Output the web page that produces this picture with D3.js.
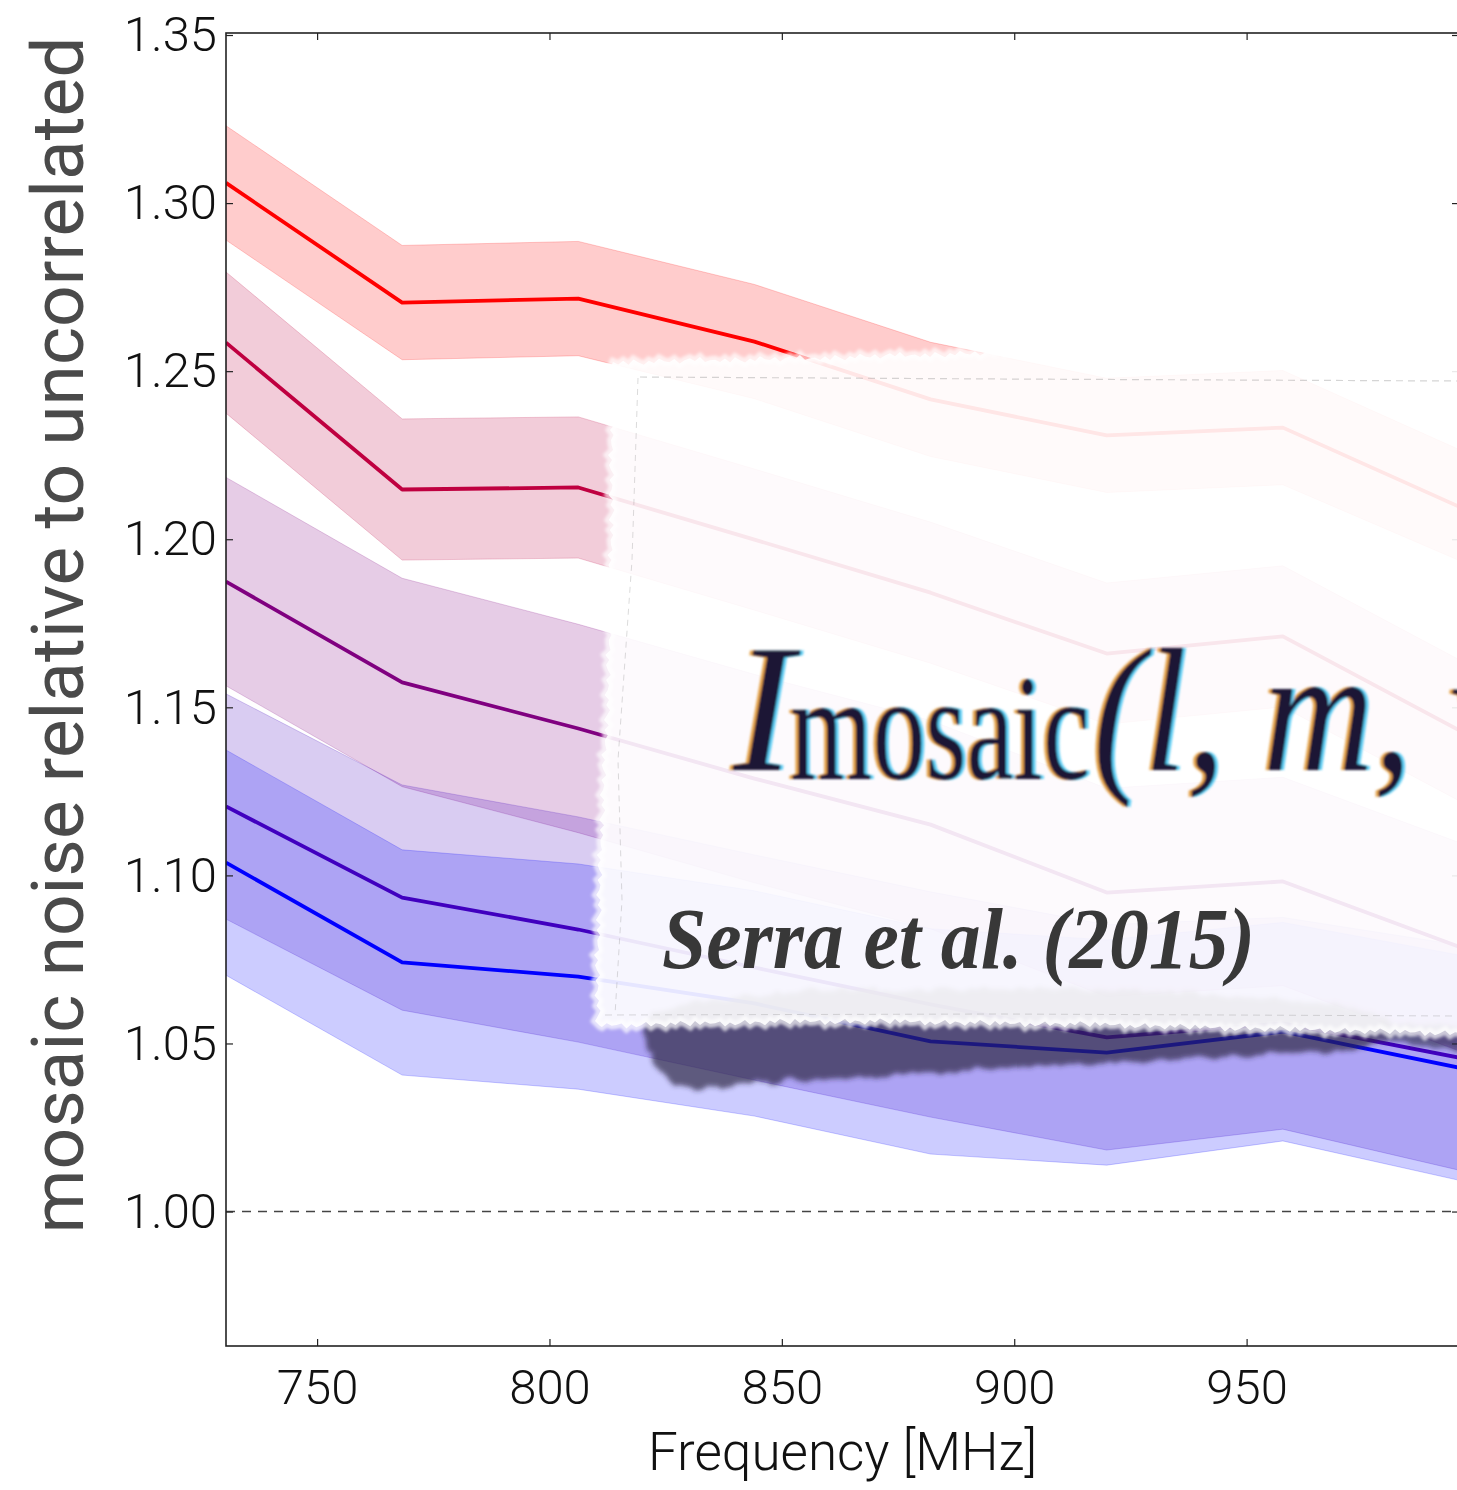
<!DOCTYPE html>
<html><head><meta charset="utf-8">
<script src="https://cdn.jsdelivr.net/npm/d3@7"></script>
<style>body{margin:0;background:#fff;} svg{display:block;}</style>
</head><body>
<svg id="chart" width="1457" height="1490"></svg>
<script>
// ---------------- data ----------------
const freq = [730.4, 768.3, 806.2, 844.1, 882.0, 919.9, 957.8, 995.7];

const seriesColors = ["#ff0000", "#bf0040", "#800080", "#4000bf", "#0000ff"];

const meanRed     = [1.3060, 1.2704, 1.2716, 1.2588, 1.2416, 1.2309, 1.2332, 1.2097];
const loRed       = [1.2890, 1.2534, 1.2546, 1.2418, 1.2246, 1.2139, 1.2162, 1.1937];
const hiRed       = [1.3230, 1.2874, 1.2886, 1.2758, 1.2586, 1.2479, 1.2502, 1.2267];

const meanCrimson = [1.2585, 1.2148, 1.2154, 1.1999, 1.1841, 1.1660, 1.1711, 1.1432];
const loCrimson   = [1.2375, 1.1938, 1.1944, 1.1789, 1.1631, 1.1450, 1.1501, 1.1222];
const hiCrimson   = [1.2795, 1.2358, 1.2364, 1.2209, 1.2051, 1.1870, 1.1921, 1.1642];

const meanPurple  = [1.1874, 1.1574, 1.1437, 1.1288, 1.1151, 1.0949, 1.0982, 1.0788];
const loPurple    = [1.1564, 1.1264, 1.1127, 1.0978, 1.0841, 1.0639, 1.0672, 1.0478];
const hiPurple    = [1.2184, 1.1884, 1.1747, 1.1598, 1.1461, 1.1259, 1.1292, 1.1098];

const meanIndigo  = [1.1205, 1.0934, 1.0839, 1.0726, 1.0616, 1.0518, 1.0560, 1.0458];
const loIndigo    = [1.0870, 1.0599, 1.0504, 1.0391, 1.0281, 1.0183, 1.0245, 1.0123];
const hiIndigo    = [1.1540, 1.1269, 1.1174, 1.1061, 1.0951, 1.0853, 1.0875, 1.0793];

const meanBlue    = [1.1038, 1.0741, 1.0699, 1.0619, 1.0506, 1.0473, 1.0535, 1.0428];
const loBlue      = [1.0703, 1.0406, 1.0364, 1.0284, 1.0171, 1.0138, 1.0210, 1.0093];
const hiBlue      = [1.1373, 1.1076, 1.1034, 1.0954, 1.0841, 1.0808, 1.0860, 1.0763];

const xTicks = [750, 800, 850, 900, 950];
const yTicks = [1.00, 1.05, 1.10, 1.15, 1.20, 1.25, 1.30, 1.35];
const yTickLabels = ["1.00", "1.05", "1.10", "1.15", "1.20", "1.25", "1.30", "1.35"];
const referenceLevel = 1.0;
const xLabel = "Frequency [MHz]";
const yLabel = "mosaic noise relative to uncorrelated";
const citation = "Serra et al. (2015)";
const formulaParts = ["I", "mosaic", "(l, m, ν"];

// ---------------- build ----------------
const series = [
  [meanRed, loRed, hiRed],
  [meanCrimson, loCrimson, hiCrimson],
  [meanPurple, loPurple, hiPurple],
  [meanIndigo, loIndigo, hiIndigo],
  [meanBlue, loBlue, hiBlue]
].map((s, i) => ({
  color: seriesColors[i],
  pts: freq.map((f, j) => ({f, m: s[0][j], lo: s[1][j], hi: s[2][j]}))
}));

const svg = d3.select("#chart");
const L = 226, R = 1459, T = 33, B = 1346;
const x = d3.scaleLinear().domain([730.4, 995.7]).range([L, R]);
const y = d3.scaleLinear().domain([0.96, 1.3506]).range([B, T]);

const defs = svg.append("defs");
defs.append("clipPath").attr("id", "plotclip")
  .append("rect").attr("x", L).attr("y", T).attr("width", R - L).attr("height", B - T);

const shadowF = defs.append("filter").attr("id", "shadowF").attr("x", "-10%").attr("y", "-40%").attr("width", "120%").attr("height", "180%");
shadowF.append("feTurbulence").attr("type", "fractalNoise").attr("baseFrequency", "0.06").attr("numOctaves", 3).attr("seed", 9).attr("result", "noise");
shadowF.append("feDisplacementMap").attr("in", "SourceGraphic").attr("in2", "noise").attr("scale", 12).attr("xChannelSelector", "R").attr("yChannelSelector", "G").attr("result", "d");
shadowF.append("feGaussianBlur").attr("in", "d").attr("stdDeviation", 2.5);

const edgeF = defs.append("filter").attr("id", "edgeF");
edgeF.append("feGaussianBlur").attr("stdDeviation", 1.6);

// chromatic fringe for the pasted formula
const fr = defs.append("filter").attr("id", "fringe").attr("x", "-5%").attr("y", "-20%").attr("width", "110%").attr("height", "140%");
fr.append("feOffset").attr("in", "SourceAlpha").attr("dx", -3).attr("result", "aL");
fr.append("feFlood").attr("flood-color", "#e0952f").attr("flood-opacity", 0.85).attr("result", "cL");
fr.append("feComposite").attr("in", "cL").attr("in2", "aL").attr("operator", "in").attr("result", "oL");
fr.append("feOffset").attr("in", "SourceAlpha").attr("dx", 3).attr("result", "aR");
fr.append("feFlood").attr("flood-color", "#45c6f2").attr("flood-opacity", 0.85).attr("result", "cR");
fr.append("feComposite").attr("in", "cR").attr("in2", "aR").attr("operator", "in").attr("result", "oR");
const mg = fr.append("feMerge").attr("result", "m");
mg.append("feMergeNode").attr("in", "oL");
mg.append("feMergeNode").attr("in", "oR");
mg.append("feMergeNode").attr("in", "SourceGraphic");
fr.append("feGaussianBlur").attr("in", "m").attr("stdDeviation", 1.0);

const soft = defs.append("filter").attr("id", "soft");
soft.append("feGaussianBlur").attr("stdDeviation", 0.6);

const plot = svg.append("g").attr("clip-path", "url(#plotclip)");

const area = d3.area().x(d => x(d.f)).y0(d => y(d.lo)).y1(d => y(d.hi));
const line = d3.line().x(d => x(d.f)).y(d => y(d.m));

series.forEach(s => {
  plot.append("path").datum(s.pts).attr("d", area)
    .attr("fill", s.color).attr("fill-opacity", 0.2)
    .attr("stroke", s.color).attr("stroke-opacity", 0.2).attr("stroke-width", 1);
});
series.forEach(s => {
  plot.append("path").datum(s.pts).attr("d", line)
    .attr("fill", "none").attr("stroke", s.color).attr("stroke-width", 3.8)
    .attr("stroke-linejoin", "round");
});

// reference dashed line
plot.append("line")
  .attr("x1", L).attr("x2", R).attr("y1", y(referenceLevel)).attr("y2", y(referenceLevel))
  .attr("stroke", "#444").attr("stroke-width", 1.5).attr("stroke-dasharray", "9,7");

// axes
const tickFont = "Roboto, 'Liberation Sans', sans-serif";
const gL = svg.append("g").attr("transform", `translate(${L},0)`)
  .call(d3.axisLeft(y).tickValues(yTicks).tickFormat((d, i) => yTickLabels[i]).tickSizeInner(-7).tickSizeOuter(0).tickPadding(9));
const gR = svg.append("g").attr("transform", `translate(${R},0)`)
  .call(d3.axisRight(y).tickValues(yTicks).tickFormat("").tickSizeInner(-7).tickSizeOuter(0));
const gB = svg.append("g").attr("transform", `translate(0,${B})`)
  .call(d3.axisBottom(x).tickValues(xTicks).tickFormat(d3.format("d")).tickSizeInner(-7).tickSizeOuter(0).tickPadding(23));
const gT = svg.append("g").attr("transform", `translate(0,${T})`)
  .call(d3.axisTop(x).tickValues(xTicks).tickFormat("").tickSizeInner(-7).tickSizeOuter(0));

[gL, gR, gB, gT].forEach(g => {
  g.select(".domain").remove();
  g.selectAll(".tick line").attr("stroke", "#222").attr("stroke-width", 1.2);
  g.selectAll(".tick text").attr("font-family", tickFont).attr("font-weight", 300)
    .attr("font-size", 49).attr("fill", "#111");
});

svg.append("rect").attr("x", L).attr("y", T).attr("width", R - L).attr("height", B - T)
  .attr("fill", "none").attr("stroke", "#222").attr("stroke-width", 1.6);

svg.append("text").attr("x", (L + R) / 2).attr("y", 1470).attr("text-anchor", "middle")
  .attr("font-family", tickFont).attr("font-weight", 300).attr("font-size", 53).attr("fill", "#111")
  .text(xLabel);

svg.append("text").attr("transform", "translate(83,635) rotate(-90)").attr("text-anchor", "middle")
  .attr("font-family", tickFont).attr("font-weight", 400).attr("font-size", 73).attr("fill", "#4a4a4a")
  .text(yLabel);

// ---------------- pasted paper excerpt overlay ----------------
const over = svg.append("g");

// shadow under the torn paper
const shadowPts = [[648,1018],[1385,1018],[1390,1036],[1360,1049],[1300,1053],[1200,1058],[1100,1063],
  [1000,1068],[900,1074],[800,1080],[720,1086],[690,1089],[668,1078],[652,1058]];
over.append("path").attr("d", d3.line().curve(d3.curveCatmullRomClosed)(shadowPts))
  .attr("fill", "#2a2440").attr("fill-opacity", 0.68).attr("filter", "url(#shadowF)");
const shadowPts2 = [[1385,1022],[1460,1026],[1460,1050],[1420,1046],[1390,1040]];
over.append("path").attr("d", d3.line()(shadowPts2) + "Z")
  .attr("fill", "#2a2440").attr("fill-opacity", 0.6).attr("filter", "url(#shadowF)");

// torn paper outline (decorative jitter pattern along the edges)
const tearPattern = [0, 2.5, -1, 3, -2, 1, 3.5, -0.5, 2, -2.5, 0.5, 1.5, -1.5, 3, 0, -2, 1, -3, 2, 0.5];
function jag(pts, step) {
  const out = [];
  let k = 0;
  for (let i = 0; i < pts.length - 1; i++) {
    const [x0, y0] = pts[i], [x1, y1] = pts[i + 1];
    const len = Math.hypot(x1 - x0, y1 - y0);
    const n = Math.max(1, Math.round(len / step));
    const nx = -(y1 - y0) / len, ny = (x1 - x0) / len;
    for (let j = 0; j < n; j++) {
      const t = j / n, o = tearPattern[k++ % tearPattern.length];
      out.push([x0 + (x1 - x0) * t + nx * o, y0 + (y1 - y0) * t + ny * o]);
    }
  }
  return out;
}
const paperOutline = [[613,362],[700,360],[800,358],[900,355],[1000,352],[1100,351],[1200,350],[1300,350],[1470,349],
  [1470,1034],[1300,1030],[1200,1028],[1100,1025],[1000,1024],[900,1022],[800,1022],[700,1024],[597,1026],
  [597,950],[600,850],[603,780],[607,700],[610,600],[611,500],[611,430],[613,362]];
const paperPath = d3.line()(jag(paperOutline, 5)) + "Z";
over.append("path").attr("d", paperPath)
  .attr("fill", "#fff").attr("fill-opacity", 0.9);
over.append("path").attr("d", paperPath)
  .attr("fill", "none").attr("stroke", "#fff").attr("stroke-width", 8).attr("stroke-opacity", 0.7)
  .attr("filter", "url(#edgeF)");

// faint seams
over.append("path").attr("d", "M640,377 L1000,379 L1457,381")
  .attr("fill", "none").attr("stroke", "#888").attr("stroke-opacity", 0.35).attr("stroke-width", 1.2).attr("stroke-dasharray", "7,5");
over.append("path").attr("d", "M638,378 L632,560 L618,760 L622,900 L615,1015")
  .attr("fill", "none").attr("stroke", "#888").attr("stroke-opacity", 0.3).attr("stroke-width", 1).attr("stroke-dasharray", "6,5");
over.append("path").attr("d", "M605,1015 L1000,1014 L1457,1016")
  .attr("fill", "none").attr("stroke", "#888").attr("stroke-opacity", 0.3).attr("stroke-width", 1).attr("stroke-dasharray", "7,5");

// formula (one text element)
const serif = "'Liberation Serif', 'DejaVu Serif', serif";
const ft = over.append("text").attr("font-family", serif).attr("fill", "#1b1535").attr("filter", "url(#fringe)");
ft.append("tspan").attr("x", 733).attr("y", 770).attr("font-size", 182).attr("font-style", "italic").text(formulaParts[0]);
ft.append("tspan").attr("x", 790).attr("y", 779).attr("font-size", 150).attr("font-style", "normal")
  .attr("textLength", 300).attr("lengthAdjust", "spacingAndGlyphs").text(formulaParts[1]);
ft.append("tspan").attr("x", 1093).attr("y", 770).attr("font-size", 175).attr("font-style", "italic")
  .attr("textLength", 425).attr("lengthAdjust", "spacingAndGlyphs").text(formulaParts[2]);

over.append("text").attr("x", 662).attr("y", 968)
  .attr("font-family", serif).attr("font-size", 86).attr("font-weight", "bold").attr("font-style", "italic")
  .attr("fill", "#383838").attr("textLength", 593).attr("lengthAdjust", "spacingAndGlyphs")
  .attr("filter", "url(#soft)")
  .text(citation);
</script>
</body></html>
